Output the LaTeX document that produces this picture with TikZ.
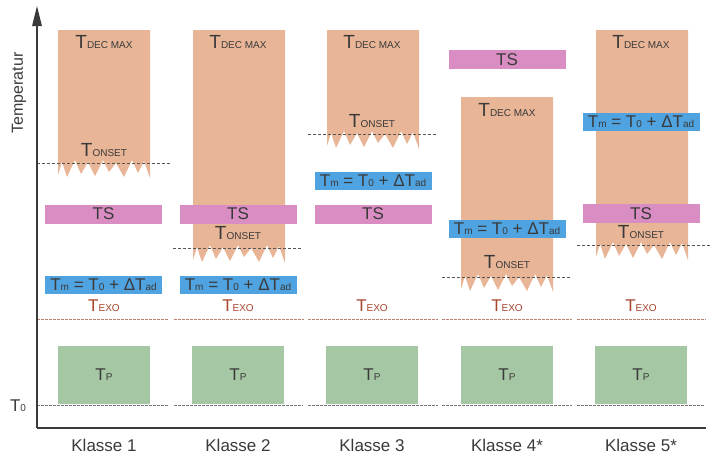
\documentclass[tikz,border=0pt]{standalone}
\usepackage{fontspec}
\setmainfont{Liberation Sans}
\usetikzlibrary{arrows.meta}

\definecolor{decfill}{HTML}{E8B596}
\definecolor{tsfill}{HTML}{D98DC2}
\definecolor{tmfill}{HTML}{4FA3E0}
\definecolor{tpfill}{HTML}{A6C7A3}
\definecolor{txt}{HTML}{3A3A3A}
\definecolor{exo}{HTML}{A8442C}
\definecolor{exoline}{HTML}{C0806E}
\definecolor{refline}{HTML}{555555}

% "T" with a small subscript set on the baseline
\newcommand\bigT[1]{{\fontsize{17}{17}\selectfont T}{\fontsize{10}{10}\selectfont #1}}
\newcommand\decT[1]{{\fontsize{19}{19}\selectfont T}{\fontsize{10}{10}\selectfont #1}}
\newcommand\tmformula{{\fontsize{17}{17}\selectfont\bigT{m} = \bigT{0} + Δ\bigT{ad}}}

% decomposition range: box from top down to a jagged lower edge at the onset level
% #1 left x, #2 top y, #3 onset y
\newcommand\decbox[3]{%
  \begin{scope}[shift={(#1,#3)}]
    \fill[decfill] (0,{#2-#3}) -- (92,{#2-#3}) -- (92,15) -- (86,-2) -- (80,10) -- (74,-3)
      -- (66,14) -- (58,0) -- (51,9) -- (45,-3) -- (37,13) -- (30,-1) -- (23,11)
      -- (17,-3) -- (9,14) -- (4,-1) -- (0,12) -- cycle;
  \end{scope}}

\begin{document}
\begin{tikzpicture}[x=1pt,y=-1pt,
  lbl/.style={text=txt,inner sep=0pt},
  tsbox/.style={fill=tsfill,minimum width=117pt,minimum height=19pt,inner sep=0pt,
    text=txt,font=\fontsize{17}{17}\selectfont},
  tmbox/.style={fill=tmfill,minimum width=117pt,minimum height=18pt,inner sep=0pt,text=txt},
  tpbox/.style={fill=tpfill,minimum width=92pt,minimum height=58pt,inner sep=0pt,text=txt},
  exolbl/.style={text=exo,inner sep=0pt},
  klasse/.style={text=txt,inner sep=0pt,font=\fontsize{17}{17}\selectfont},
  onsetline/.style={refline,line width=0.8pt,dash pattern=on 3pt off 2pt},
  exoln/.style={exoline,line width=0.9pt,dash pattern=on 2.5pt off 1.5pt},
  zeroline/.style={refline!80,line width=0.8pt,dash pattern=on 2.5pt off 1.5pt},
  axis/.style={txt,line width=1.3pt}]

\useasboundingbox (0,0) rectangle (713,459);

% decomposition ranges
\decbox{58}{30}{163}
\decbox{193}{30}{248}
\decbox{327}{30}{134}
\decbox{461}{97}{277}
\decbox{596}{30}{245}

\node[lbl] (dec1) at (104,42) {\decT{DEC MAX}};
\node[lbl] (dec2) at (238,42) {\decT{DEC MAX}};
\node[lbl] (dec3) at (372,42) {\decT{DEC MAX}};
\node[lbl] (dec4) at (507,110) {\decT{DEC MAX}};
\node[lbl] (dec5) at (641,42) {\decT{DEC MAX}};

\node[lbl] (on1) at (104,150) {\decT{ONSET}};
\node[lbl] (on2) at (238,233) {\decT{ONSET}};
\node[lbl] (on3) at (372,121) {\decT{ONSET}};
\node[lbl] (on4) at (507,262) {\decT{ONSET}};
\node[lbl] (on5) at (641,232) {\decT{ONSET}};

% onset levels
\coordinate (oa1) at (37,163);  \coordinate (ob1) at (170,163);
\coordinate (oa2) at (173,248); \coordinate (ob2) at (302,248);
\coordinate (oa3) at (308,134); \coordinate (ob3) at (437,134);
\coordinate (oa4) at (442,277); \coordinate (ob4) at (572,277);
\coordinate (oa5) at (577,245); \coordinate (ob5) at (710,245);
\foreach \i in {1,...,5} \draw[onsetline] (oa\i) -- (ob\i);

% synthesis temperature and maximum temperature of the runaway
\node[tsbox] (ts1) at (103.5,214) {TS};
\node[tsbox] (ts2) at (238,214) {TS};
\node[tsbox] (ts3) at (373,214) {TS};
\node[tsbox] (ts4) at (507,59.5) {TS};
\node[tsbox] (ts5) at (641,213.5) {TS};

\node[tmbox] (tm1) at (103.5,285) {\tmformula};
\node[tmbox] (tm2) at (238,285) {\tmformula};
\node[tmbox] (tm3) at (373,181) {\tmformula};
\node[tmbox] (tm4) at (507,229) {\tmformula};
\node[tmbox] (tm5) at (641,121.5) {\tmformula};

% exotherm onset
\foreach \c/\n in {104/1,238/2,372/3,507/4,641/5}
  \node[exolbl] (exo\n) at (\c,306) {\bigT{EXO}};
\foreach \a/\b in {37/168,174/304,308/438,442/572,577/706}
  \draw[exoln] (\a,319) -- (\b,319);

% process temperature
\foreach \c/\n in {104/1,238/2,372/3,507/4,641/5}
  \node[tpbox] (tp\n) at (\c,375) {\bigT{P}};
\foreach \a/\b in {37/168,174/303,308/438,442/572,577/704}
  \draw[zeroline] (\a,405) -- (\b,405);

% axes
\coordinate (origin) at (37,428);
\coordinate (ytop) at (37,6);
\coordinate (xend) at (706,428);
\draw[axis] (origin) -- (xend);
\draw[axis,-{Triangle[length=20pt,width=9.5pt]}] (origin) -- (ytop);

\node[lbl,rotate=90,font=\fontsize{16}{16}\selectfont] (ylab) at (19,93) {Temperatur};
\node[lbl] (t0) at (18,406) {\bigT{0}};

\node[klasse] (k1) at (104,445) {Klasse 1};
\node[klasse] (k2) at (238,445) {Klasse 2};
\node[klasse] (k3) at (372,445) {Klasse 3};
\node[klasse] (k4) at (507,445) {Klasse 4*};
\node[klasse] (k5) at (641,445) {Klasse 5*};
\end{tikzpicture}
\end{document}
